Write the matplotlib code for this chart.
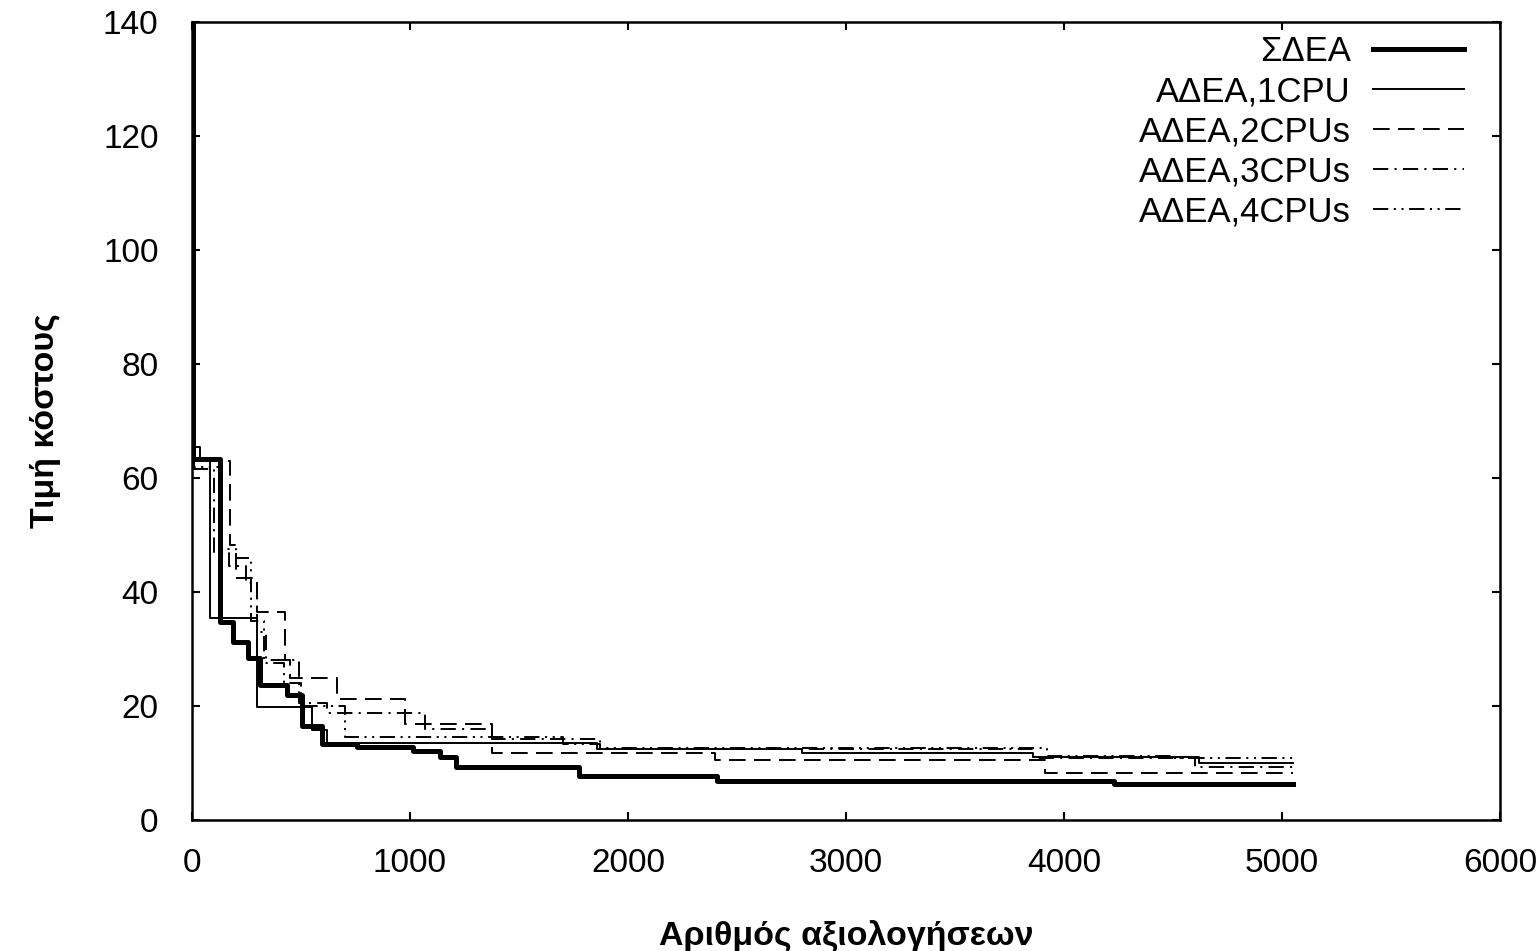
import matplotlib
matplotlib.use('Agg')
import matplotlib.pyplot as plt

plt.rcParams['font.family'] = ['Liberation Sans', 'DejaVu Sans']
plt.rcParams['lines.scale_dashes'] = False

# best cost so far: (evaluation where the value starts, value), drawn as steps
sdea_x = [0, 5, 128, 188, 257, 312, 436, 505, 596, 757, 1014, 1138, 1210, 1775, 2410, 4230, 5050]
sdea_y = [140, 63.3, 34.7, 31.2, 28.4, 23.7, 21.9, 16.5, 13.3, 12.8, 12.2, 11.0, 9.3, 7.7, 6.8, 6.3, 6.3]

cpu1_x = [0, 5, 37, 83, 298, 550, 620, 1860, 2800, 3860, 4620, 5050]
cpu1_y = [140, 65.5, 63.0, 35.5, 19.8, 15.8, 13.5, 12.4, 11.7, 11.0, 10.0, 10.0]

cpu2_x = [0, 10, 174, 200, 300, 427, 450, 665, 977, 1376, 2400, 3913, 5050]
cpu2_y = [140, 63.0, 48.3, 42.5, 36.5, 28.0, 25.0, 21.2, 16.8, 11.8, 10.5, 8.2, 8.2]

cpu3_x = [0, 8, 100, 170, 250, 300, 340, 490, 620, 1069, 1376, 1870, 3860, 4600, 5050]
cpu3_y = [140, 61.5, 47.0, 44.5, 41.5, 33.0, 28.0, 20.5, 18.7, 16.0, 14.3, 12.5, 10.9, 9.3, 9.3]

cpu4_x = [0, 10, 140, 200, 270, 330, 420, 500, 700, 1700, 1870, 3920, 4500, 5050]
cpu4_y = [140, 62.0, 47.5, 46.0, 35.0, 27.5, 24.0, 20.0, 14.5, 13.3, 12.6, 11.3, 10.8, 10.8]

labels = ['ΣΔΕΑ', 'ΑΔΕΑ,1CPU', 'ΑΔΕΑ,2CPUs', 'ΑΔΕΑ,3CPUs', 'ΑΔΕΑ,4CPUs']

fig = plt.figure(figsize=(15.38, 9.51), dpi=100)
ax = fig.add_axes([0.1248, 0.1377, 0.8505, 0.8392])

thin = 1.4
ax.step(sdea_x, sdea_y, where='post', color='black', lw=3.6, label=labels[0])
ax.step(cpu1_x, cpu1_y, where='post', color='black', lw=thin, label=labels[1])
ax.step(cpu2_x, cpu2_y, where='post', color='black', lw=thin,
        dashes=(12, 6), label=labels[2])
ax.step(cpu3_x, cpu3_y, where='post', color='black', lw=thin,
        dashes=(11, 4.5, 1.5, 4.5), label=labels[3])
ax.step(cpu4_x, cpu4_y, where='post', color='black', lw=thin,
        dashes=(11, 4, 1.5, 4, 1.5, 4), label=labels[4])

ax.set_xlim(0, 6000)
ax.set_ylim(0, 140)
ax.set_xticks(range(0, 6001, 1000))
ax.set_yticks(range(0, 141, 20))
ax.tick_params(direction='in', length=6, width=1.5, labelsize=24,
               top=True, right=True)
ax.tick_params(axis='x', pad=20)
ax.tick_params(axis='y', pad=24)
for s in ax.spines.values():
    s.set_linewidth(1.8)

ax.set_xlabel('Αριθμός αξιολογήσεων', fontsize=24.5, fontweight='bold', labelpad=30)
ax.set_ylabel('Τιμή κόστους', fontsize=24.5, fontweight='bold', labelpad=30)

ax.legend(loc='upper right', bbox_to_anchor=(0.9935, 1.018), frameon=False,
          markerfirst=False, fontsize=25, handlelength=2.6,
          handletextpad=0.66, labelspacing=0.2, borderpad=0.3)

fig.savefig('out.png', dpi=100)
